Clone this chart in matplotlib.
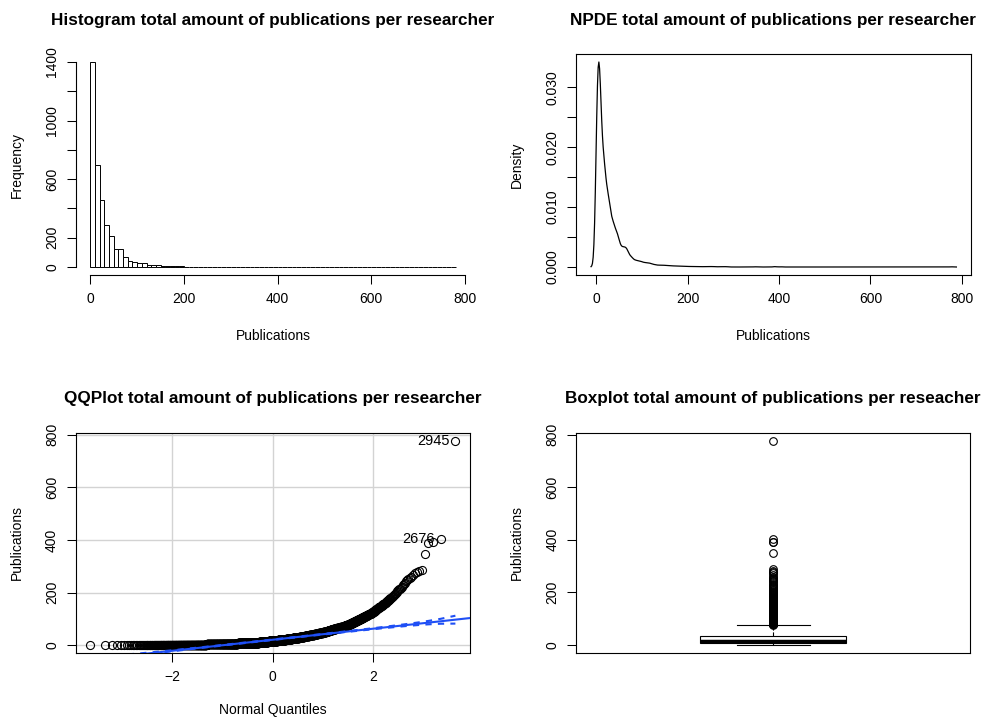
import numpy as np
import matplotlib
matplotlib.use("Agg")
import matplotlib.pyplot as plt
from statistics import NormalDist

plt.rcParams['font.family'] = ['Liberation Sans', 'DejaVu Sans']

# publications per researcher, counted in bins of width 10 (0-10, 10-20, ..., 280-290)
bin_width = 10
bin_counts = [1400, 695, 456, 287, 214, 121, 121, 66, 41, 37,
              27, 25, 16, 11, 11, 9, 7, 6, 4, 4,
              3, 3, 2, 2, 2, 3, 1, 2, 2]
# the few researchers far above the rest
top_values = [348, 390, 392, 404, 777]
# row ids printed next to the two most extreme points of the qq plot
point_ids = {404: "2676", 777: "2945"}

titles = ["Histogram total amount of publications per researcher",
          "NPDE total amount of publications per researcher",
          "QQPlot total amount of publications per researcher",
          "Boxplot total amount of publications per reseacher"]

# expand the binned counts into one value per researcher
pubs = []
for i, n in enumerate(bin_counts):
    lo = i * bin_width
    pubs.extend(lo + bin_width * (np.arange(n) + 0.5) / n)
pubs = np.sort(np.concatenate([pubs, top_values]))
n = len(pubs)

W, H = 981, 719
fig = plt.figure(figsize=(W / 100, H / 100), dpi=100)
BLUE = '#1f4ff5'


def panel(x0, y0, x1, y1):
    return fig.add_axes([x0 / W, 1 - y1 / H, (x1 - x0) / W, (y1 - y0) / H])


def put_text(x, y, s, **kw):
    fig.text(x / W, 1 - y / H, s, ha='center', va='center', **kw)


def r_lim(lo, hi):
    # R style 4% padding on each side
    d = (hi - lo) * 0.04
    return lo - d, hi + d


def style(ax):
    ax.tick_params(direction='out', length=6.5, width=0.75, labelsize=10, pad=5.5)
    for sp in ax.spines.values():
        sp.set_linewidth(0.8)
    plt.setp(ax.get_yticklabels(), rotation=90, va='center')


# --- histogram ---
ax1 = panel(75.7, 53.8, 470.3, 275.2)
edges = np.arange(0, pubs.max() + bin_width, bin_width)
counts, _, _ = ax1.hist(pubs, bins=edges, facecolor='white', edgecolor='black', linewidth=0.7)
ax1.set_xlim(r_lim(0, edges[-1]))
ax1.set_ylim(r_lim(0, counts.max()))
ax1.spines[['top', 'right']].set_visible(False)
ax1.spines['left'].set_bounds(0, 1400)
ax1.spines['bottom'].set_bounds(0, 800)
ax1.set_xticks(np.arange(0, 801, 200))
ax1.set_yticks(np.arange(0, 1401, 200))
ax1.set_yticklabels(['0', '200', '', '600', '', '1000', '', '1400'])
style(ax1)

# --- kernel density (gaussian, rule-of-thumb bandwidth) ---
ax2 = panel(576.4, 53.8, 971, 275.2)
q1, q3 = np.percentile(pubs, [25, 75])
bw = 0.9 * min(pubs.std(ddof=1), (q3 - q1) / 1.34) * n ** -0.2
xs = np.linspace(pubs.min() - 3 * bw, pubs.max() + 3 * bw, 512)
dens = np.zeros_like(xs)
for chunk in np.array_split(pubs, 8):
    dens += np.exp(-0.5 * ((xs[:, None] - chunk[None, :]) / bw) ** 2).sum(axis=1)
dens /= n * bw * np.sqrt(2 * np.pi)
ax2.plot(xs, dens, color='black', lw=0.9)
ax2.set_xlim(r_lim(xs[0], xs[-1]))
ax2.set_ylim(r_lim(0, dens.max()))
ax2.set_xticks(np.arange(0, 801, 200))
ax2.set_yticks(np.arange(0, 0.0301, 0.005))
ax2.set_yticklabels(['0.000', '', '0.010', '', '0.020', '', '0.030'])
style(ax2)

# --- normal qq plot with quartile line and 95% envelope ---
ax3 = panel(75.7, 432.7, 470, 653.3)
nd = NormalDist()
pp = (np.arange(1, n + 1) - 0.5) / n
z = np.array([nd.inv_cdf(p) for p in pp])
z25, z75 = nd.inv_cdf(0.25), nd.inv_cdf(0.75)
slope = (q3 - q1) / (z75 - z25)
intercept = q1 - slope * z25
fit = intercept + slope * z
se = slope / np.array([nd.pdf(v) for v in z]) * np.sqrt(pp * (1 - pp) / n)
zz = nd.inv_cdf(0.975)

ax3.set_axisbelow(True)
ax3.grid(color='#d3d3d3', lw=1)
xl = r_lim(z[0], z[-1])
ax3.plot(z, pubs, 'o', mfc='none', mec='black', ms=5.8, mew=0.8, zorder=2)
ax3.plot(xl, intercept + slope * np.array(xl), color=BLUE, lw=1.5, zorder=3)
for env in (fit + zz * se, fit - zz * se):
    ax3.plot(z, env, color=BLUE, lw=1.5, dashes=(3, 3), zorder=3)
for val, pid in point_ids.items():
    k = np.argmin(np.abs(pubs - val))
    ax3.annotate(pid, (z[k], pubs[k]), xytext=(-4, 0), textcoords='offset points',
                 ha='right', va='center', fontsize=10.5)
ax3.set_xlim(xl)
ax3.set_ylim(r_lim(0, pubs.max()))
ax3.set_xticks([-2, 0, 2])
ax3.set_yticks(np.arange(0, 801, 200))
style(ax3)

# --- boxplot ---
ax4 = panel(576.4, 432.5, 970, 653)
ax4.boxplot(pubs, positions=[1], widths=0.4, whis=1.5, capwidths=0.2, patch_artist=True,
            boxprops=dict(facecolor='white', edgecolor='black', lw=0.8),
            medianprops=dict(color='black', lw=2.5),
            whiskerprops=dict(color='black', lw=0.8, ls='--'),
            capprops=dict(color='black', lw=0.8),
            flierprops=dict(marker='o', mfc='none', mec='black', ms=5.5, mew=0.8))
ax4.set_xlim(0.46, 1.54)
ax4.set_ylim(r_lim(pubs.min(), pubs.max()))
ax4.set_xticks([])
ax4.set_yticks(np.arange(0, 801, 200))
style(ax4)

# titles and axis labels
for (cx, cy), t in zip([(273, 21), (773, 21), (273, 399), (773, 399)], titles):
    put_text(cx, cy, t, fontsize=12.3, fontweight='bold')
put_text(273, 336, "Publications", fontsize=10)
put_text(773, 336, "Publications", fontsize=10)
put_text(273, 710, "Normal Quantiles", fontsize=10)
put_text(17, 164.5, "Frequency", fontsize=10, rotation=90)
put_text(517, 164.5, "Density", fontsize=10, rotation=90)
put_text(17, 543, "Publications", fontsize=10, rotation=90)
put_text(517, 543, "Publications", fontsize=10, rotation=90)

fig.savefig('out.png', dpi=100)
